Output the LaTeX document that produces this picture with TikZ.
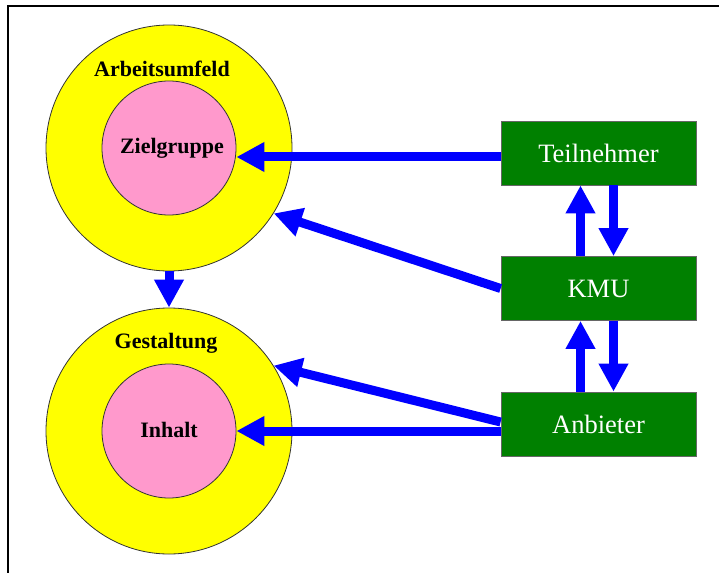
\documentclass[tikz,border=0pt]{standalone}
\usepackage{fontspec}
\setmainfont{Liberation Serif}
\usepackage{xcolor}
\usetikzlibrary{arrows.meta}
\definecolor{ringyellow}{HTML}{FFFF00}
\definecolor{corepink}{HTML}{FF99CC}
\definecolor{boxgreen}{HTML}{008000}
\begin{document}
\begin{tikzpicture}[x=1pt, y=-1pt,
                ring/.style={circle, draw=black!80, line width=0.8pt, fill=ringyellow,
                minimum size=246pt, inner sep=0pt},
                core/.style={circle, draw=black!80, line width=0.8pt, fill=corepink,
                minimum size=134pt, inner sep=0pt, font=\fontsize{22}{26}\selectfont\bfseries},
                ringlabel/.style={inner sep=0pt, font=\fontsize{22}{26}\selectfont\bfseries},
                box/.style={rectangle, draw=black!60, line width=0.8pt, fill=boxgreen,
                minimum width=195pt, minimum height=64pt, text=white,
                font=\fontsize{26.5}{30}\selectfont},
                arrow/.style={-{Triangle[width=28pt,length=28pt]}, line width=9pt, blue}
            ]
        \useasboundingbox (0,0) rectangle (719,572);
        \clip (0,0) rectangle (719,572);
        \draw[line width=2pt] (8,600) -- (8,6) -- (740,6);

        \node[ring] (umfeld)  at (169,148) {};
        \node[core] (ziel)    at (169,148) {\hspace*{6pt}Zielgruppe};
        \node[ringlabel] (umfeldlab) at (162,69) {Arbeitsumfeld};

        \node[ring] (gestalt) at (169,431) {};
        \node[core] (inhalt)  at (169,431) {\raisebox{3pt}{Inhalt}};
        \node[ringlabel] (gestaltlab) at (166,343) {Gestaltung};

        \node[box] (teiln)  at (598.5,153)   {Teilnehmer};
        \node[box] (kmu)    at (598.5,288.5) {KMU};
        \node[box] (anbiet) at (598.5,424)   {Anbieter};

        \draw[arrow] ([yshift=-4pt]teiln.west) -- ([yshift=-4pt]teiln.west -| ziel.east);
        \draw[arrow] (kmu.west)   -- (umfeld.-32);
        \draw[arrow] ([yshift=2pt]anbiet.west) -- (gestalt.32);
        \draw[arrow] ([yshift=-7pt]anbiet.west) -- ([yshift=-7pt]anbiet.west -| inhalt.east);
        \draw[arrow] (umfeld.south) -- (gestalt.north);

        \draw[arrow] ([xshift=-18pt]kmu.north)    -- ([xshift=-18pt]teiln.south);
        \draw[arrow] ([xshift=15pt]teiln.south)   -- ([xshift=15pt]kmu.north);
        \draw[arrow] ([xshift=-18pt]anbiet.north) -- ([xshift=-18pt]kmu.south);
        \draw[arrow] ([xshift=15pt]kmu.south)     -- ([xshift=15pt]anbiet.north);
            \end{tikzpicture}
\end{document}
